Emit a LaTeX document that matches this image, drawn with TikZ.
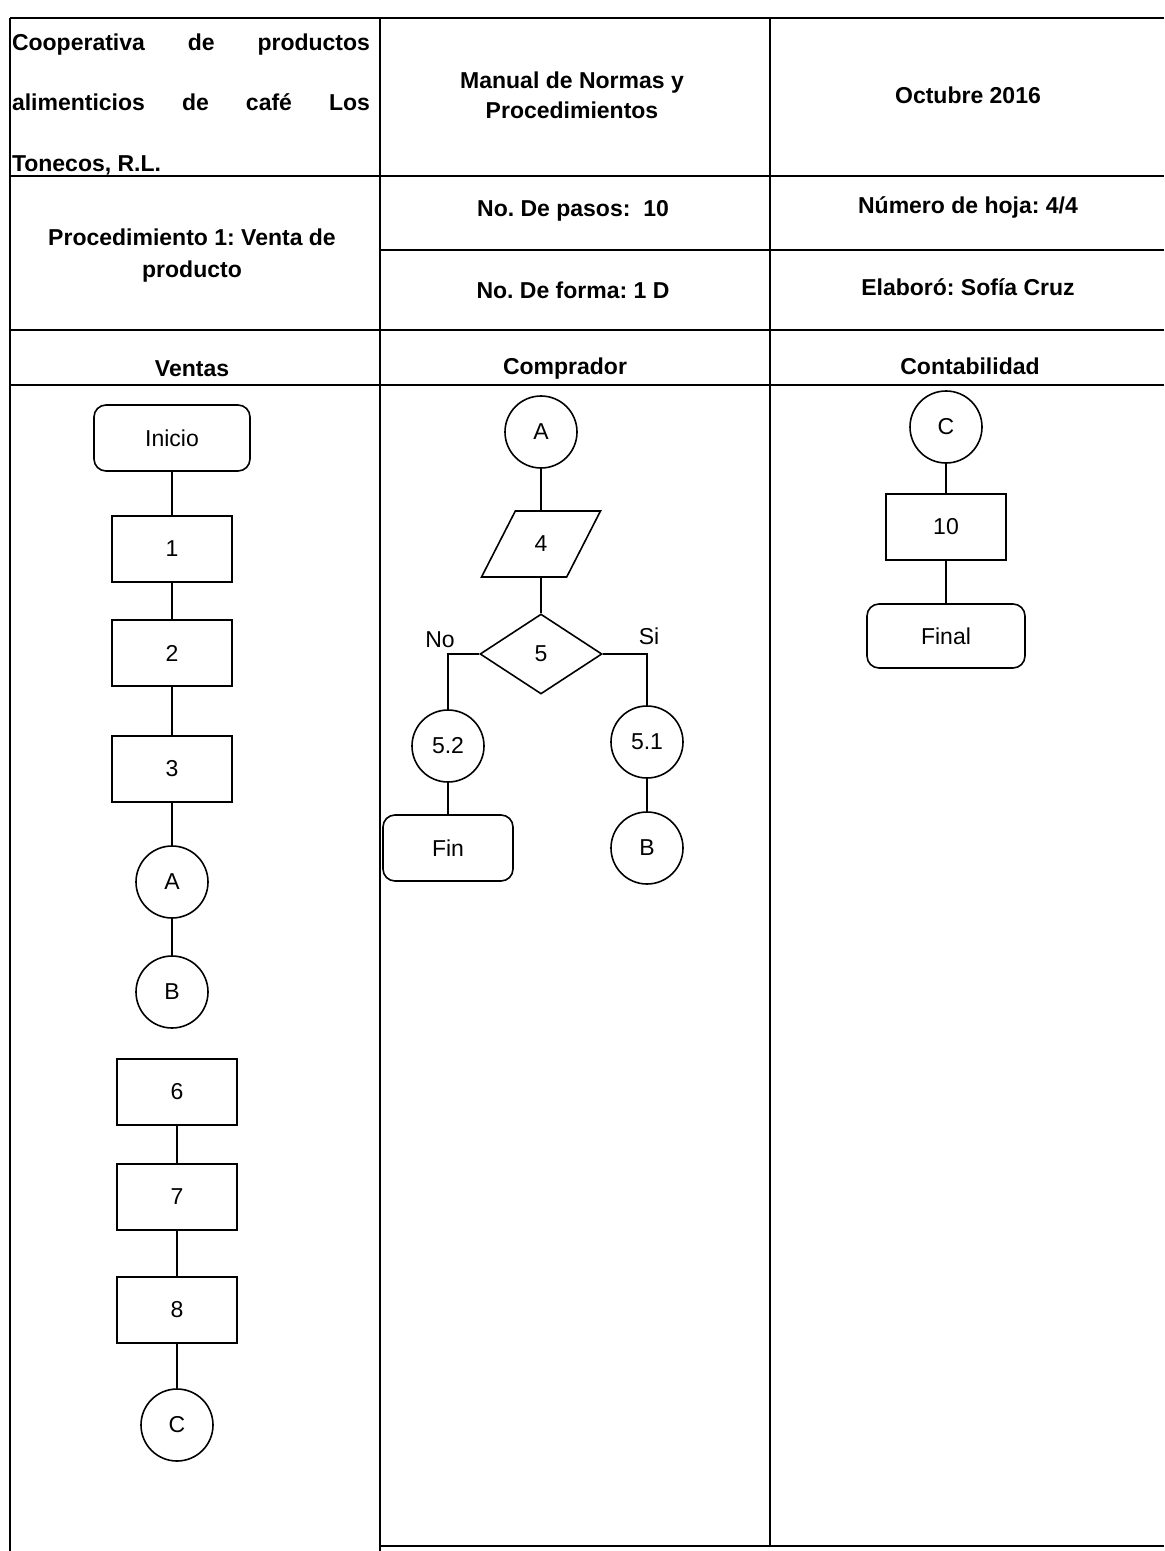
\documentclass[tikz,border=0pt]{standalone}
\usepackage{fontspec}
\setmainfont{Liberation Sans}
\usetikzlibrary{shapes.geometric, positioning}
\frenchspacing

\begin{document}
\begin{tikzpicture}[x=0.5pt, y=-0.5pt, font=\fontsize{11.5}{14}\selectfont,
  tbl/.style={line width=1pt},
  hdr/.style={font=\fontsize{11.5}{15}\selectfont\bfseries, align=center},
  link/.style={line width=0.8pt},
  proc/.style={draw, line width=0.8pt, minimum width=60pt, minimum height=33pt, inner sep=0pt},
  term/.style={proc, rounded corners=6pt},
  conn/.style={draw, circle, line width=0.8pt, minimum size=36pt, inner sep=0pt},
  io/.style={draw, trapezium, trapezium left angle=62, trapezium right angle=118, trapezium stretches=true, line width=0.8pt, minimum width=59.5pt, minimum height=33pt, inner sep=0pt},
  dec/.style={draw, diamond, aspect=1.5, line width=0.8pt, minimum width=61pt, minimum height=40pt, inner sep=0pt}]
\useasboundingbox (0,0) rectangle (1164,1551);

\foreach \y in {18,176,330,385} \draw[tbl] (10,\y) -- (1164,\y);
\draw[tbl] (380,250) -- (1164,250);
\draw[tbl] (10,18) -- (10,1551);
\draw[tbl] (380,18) -- (380,1551);
\draw[tbl] (770,18) -- (770,1546);
\draw[tbl] (380,1546) -- (1164,1546);

\node[hdr, font=\fontsize{11.5}{30.25}\selectfont\bfseries, align=left, inner sep=0pt] (org) at (191,104)
  {\makebox[179pt][s]{Cooperativa de productos}\\ \makebox[179pt][s]{alimenticios de café Los}\\ Tonecos, R.L.};
\node[hdr] (manual) at (572,95) {Manual de Normas y\\Procedimientos};
\node[hdr] (fecha) at (968,95) {Octubre 2016};
\node[hdr, font=\fontsize{11.5}{16}\selectfont\bfseries] (proced) at (192,256) {Procedimiento 1: Venta de\\producto};
\node[hdr] (pasos) at (573,211) {No. De pasos:\ \ 10};
\node[hdr] (hoja) at (968,207) {Número de hoja: 4/4};
\node[hdr] (forma) at (573,290) {No. De forma: 1 D};
\node[hdr] (elab) at (968,287) {Elaboró: Sofía Cruz};
\node[hdr] (ventas) at (192,369) {Ventas};
\node[hdr] (compr) at (565,369) {Comprador};
\node[hdr] (conta) at (970,366) {Contabilidad};

\node[term, minimum width=78pt] (inicio) at (172,438) {Inicio};
\node[proc] (p1) at (172,549) {1};
\node[proc] (p2) at (172,653) {2};
\node[proc] (p3) at (172,769) {3};
\node[conn] (va) at (172,882) {A};
\node[conn] (vb) at (172,992) {B};
\node[proc] (p6) at (177,1092) {6};
\node[proc] (p7) at (177,1197) {7};
\node[proc] (p8) at (177,1310) {8};
\node[conn] (vc) at (177,1425) {C};
\foreach \a/\b in {inicio/p1, p1/p2, p2/p3, p3/va, va/vb, p6/p7, p7/p8, p8/vc}
  \draw[link] (\a) -- (\b);

\node[conn] (ca) at (541,432) {A};
\node[io] (p4) at (541,544) {4};
\node[dec] (p5) at (541,654) {5};
\node[conn] (c52) at (448,746) {5.2};
\node[conn] (c51) at (647,742) {5.1};
\node[term, minimum width=65pt] (fin) at (448,848) {Fin};
\node[conn] (cb) at (647,848) {B};
\node (no) at (440,640) {No};
\node (si) at (649,636) {Si};
\draw[link] (ca) -- (p4);
\draw[link] (p4) -- (p5);
\draw[link] (p5.west) -| (c52);
\draw[link] (p5.east) -| (c51);
\draw[link] (c52) -- (fin);
\draw[link] (c51) -- (cb);

\node[conn] (kc) at (946,427) {C};
\node[proc] (p10) at (946,527) {10};
\node[term, minimum width=79pt, minimum height=32pt] (final) at (946,636) {Final};
\draw[link] (kc) -- (p10);
\draw[link] (p10) -- (final);
\end{tikzpicture}
\end{document}
